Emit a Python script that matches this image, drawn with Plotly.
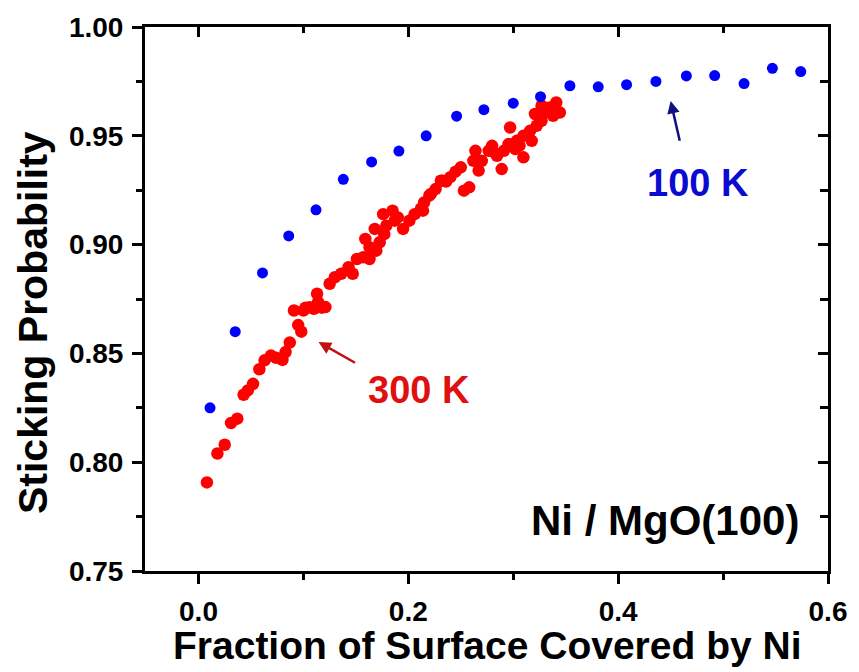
import plotly.graph_objects as go

# 100 K data (blue)
x_100K = [0.011, 0.035, 0.061, 0.086, 0.112, 0.138, 0.165, 0.191, 0.217, 0.246,
          0.272, 0.300, 0.326, 0.354, 0.381, 0.408, 0.436, 0.465, 0.492, 0.520,
          0.547, 0.574]
y_100K = [0.825, 0.860, 0.887, 0.904, 0.916, 0.930, 0.938, 0.943, 0.950, 0.959,
          0.962, 0.965, 0.968, 0.973, 0.9725, 0.9735, 0.975, 0.9775, 0.9777, 0.974,
          0.981, 0.9795]

# 300 K data (red)
x_300K = [0.008, 0.018, 0.025, 0.031, 0.037, 0.043, 0.047, 0.052, 0.058, 0.063,
          0.069, 0.074, 0.080, 0.083, 0.087, 0.091, 0.095, 0.098, 0.100, 0.102,
          0.106, 0.110, 0.113, 0.114, 0.1175, 0.121, 0.125, 0.130, 0.136, 0.143,
          0.147, 0.151, 0.157, 0.159, 0.163, 0.163, 0.168, 0.1695, 0.1727, 0.176,
          0.177, 0.179, 0.185, 0.187, 0.190, 0.195, 0.201, 0.206, 0.212, 0.214,
          0.215, 0.220, 0.2215, 0.226, 0.231, 0.2325, 0.240, 0.250, 0.253, 0.258,
          0.264, 0.267, 0.270, 0.2766, 0.2798, 0.2845, 0.289, 0.291, 0.2955, 0.297,
          0.302, 0.3034, 0.3097, 0.3097, 0.316, 0.3176, 0.3207, 0.3223, 0.327, 0.327,
          0.330, 0.335, 0.338, 0.341, 0.3444, 0.245, 0.262, 0.283, 0.306, 0.236]
y_300K = [0.7907, 0.804, 0.808, 0.818, 0.820, 0.831, 0.833, 0.836, 0.8427, 0.8468,
          0.849, 0.848, 0.847, 0.8506, 0.855, 0.8697, 0.863, 0.860, 0.8697, 0.871,
          0.8712, 0.8705, 0.8774, 0.8736, 0.871, 0.8713, 0.882, 0.885, 0.8866, 0.8896,
          0.8866, 0.8934, 0.8942, 0.9026, 0.8934, 0.8988, 0.9072, 0.8972, 0.9011, 0.914,
          0.9048, 0.9087, 0.9156, 0.911, 0.9125, 0.9072, 0.911, 0.914, 0.9165, 0.9156,
          0.9194, 0.9225, 0.9233, 0.9255, 0.9294, 0.9294, 0.931, 0.9355, 0.9248, 0.9263,
          0.9431, 0.934, 0.9385, 0.9431, 0.9454, 0.9408, 0.9347, 0.9431, 0.9462, 0.9538,
          0.9439, 0.9477, 0.9401, 0.950, 0.9523, 0.9477, 0.960, 0.9546, 0.9569, 0.9638,
          0.9607, 0.963, 0.9592, 0.9653, 0.9607, 0.9335, 0.9385, 0.9420, 0.9455, 0.9290]

x_ticks = [0.0, 0.2, 0.4, 0.6]
y_ticks = [0.75, 0.80, 0.85, 0.90, 0.95, 1.00]

FONT = "Liberation Sans, Arial, sans-serif"

fig = go.Figure()
fig.add_trace(go.Scatter(x=x_300K, y=y_300K, mode="markers", name="300 K",
                         marker=dict(color="#ff0000", size=12.5, line=dict(width=0))))
fig.add_trace(go.Scatter(x=x_100K, y=y_100K, mode="markers", name="100 K",
                         marker=dict(color="#0000ff", size=11, line=dict(width=0))))
fig.add_trace(go.Scatter(x=[], y=[], xaxis="x2", yaxis="y2", showlegend=False))

xr = [-0.051, 0.6]
yr = [0.75, 1.00]

fig.update_layout(
    width=859, height=672,
    margin=dict(l=145, r=25, t=26, b=101),
    paper_bgcolor="white", plot_bgcolor="white",
    showlegend=False,
    font=dict(family=FONT, color="black"),
    xaxis=dict(range=xr, tickvals=x_ticks, ticktext=[f"{v:.1f}" for v in x_ticks],
               showgrid=False, zeroline=False, showline=True, linecolor="black", linewidth=3,
               ticks="outside", ticklen=10, tickwidth=3, tickcolor="black",
               minor=dict(dtick=0.1, tick0=0, ticks="outside", ticklen=6, tickwidth=3, tickcolor="black", showgrid=False),
               tickfont=dict(size=28, family=FONT, weight="bold"), ticklabelstandoff=3),
    yaxis=dict(range=yr, tickvals=y_ticks, ticktext=[f"{v:.2f}" for v in y_ticks],
               showgrid=False, zeroline=False, showline=True, linecolor="black", linewidth=3,
               ticks="outside", ticklen=10, tickwidth=3, tickcolor="black",
               minor=dict(dtick=0.025, tick0=0.75, ticks="outside", ticklen=6, tickwidth=3, tickcolor="black", showgrid=False),
               tickfont=dict(size=28, family=FONT, weight="bold"), ticklabelstandoff=3),
    xaxis2=dict(range=xr, overlaying="x", side="top", anchor="y", tickvals=x_ticks,
                showticklabels=False, showgrid=False, zeroline=False, showline=True,
                linecolor="black", linewidth=3, ticks="inside", ticklen=10, tickwidth=3, tickcolor="black",
                minor=dict(dtick=0.1, tick0=0, ticks="inside", ticklen=6, tickwidth=3, tickcolor="black", showgrid=False)),
    yaxis2=dict(range=yr, overlaying="y", side="right", anchor="x2", tickvals=y_ticks,
                showticklabels=False, showgrid=False, zeroline=False, showline=True,
                linecolor="black", linewidth=3, ticks="inside", ticklen=10, tickwidth=3, tickcolor="black",
                minor=dict(dtick=0.025, tick0=0.75, ticks="inside", ticklen=8, tickwidth=3, tickcolor="black", showgrid=False)),
)

# Axis titles as annotations
fig.add_annotation(text="Fraction of Surface Covered by Ni", xref="paper", yref="paper",
                   x=0.5, y=-0.137, xanchor="center", yanchor="middle", showarrow=False,
                   font=dict(size=39, family=FONT, weight="bold", color="black"))
fig.add_annotation(text="Sticking Probability", xref="paper", yref="paper",
                   x=-0.163, y=0.457, xanchor="center", yanchor="middle", showarrow=False,
                   textangle=-90,
                   font=dict(size=41, family=FONT, weight="bold", color="black"))

# Labels
fig.add_annotation(text="100 K", x=0.476, y=0.9284, showarrow=False,
                   font=dict(size=38, family=FONT, weight="bold", color="#0a0ad0"))
fig.add_annotation(text="300 K", x=0.210, y=0.833, showarrow=False,
                   font=dict(size=38, family=FONT, weight="bold", color="#e01010"))
fig.add_annotation(text="Ni / MgO(100)", x=0.574, y=0.773, xanchor="right", showarrow=False,
                   font=dict(size=42, family=FONT, weight="bold", color="black"))

# Arrows
fig.add_annotation(text="", x=0.450, y=0.966, ax=0.459, ay=0.947, axref="x", ayref="y",
                   showarrow=True, arrowhead=2, arrowsize=1, arrowwidth=2.5, arrowcolor="#101080")
fig.add_annotation(text="", x=0.1144, y=0.8552, ax=0.1506, ay=0.8453, axref="x", ayref="y",
                   showarrow=True, arrowhead=2, arrowsize=1, arrowwidth=2.5, arrowcolor="#c01010")

fig.write_html("out.html")
